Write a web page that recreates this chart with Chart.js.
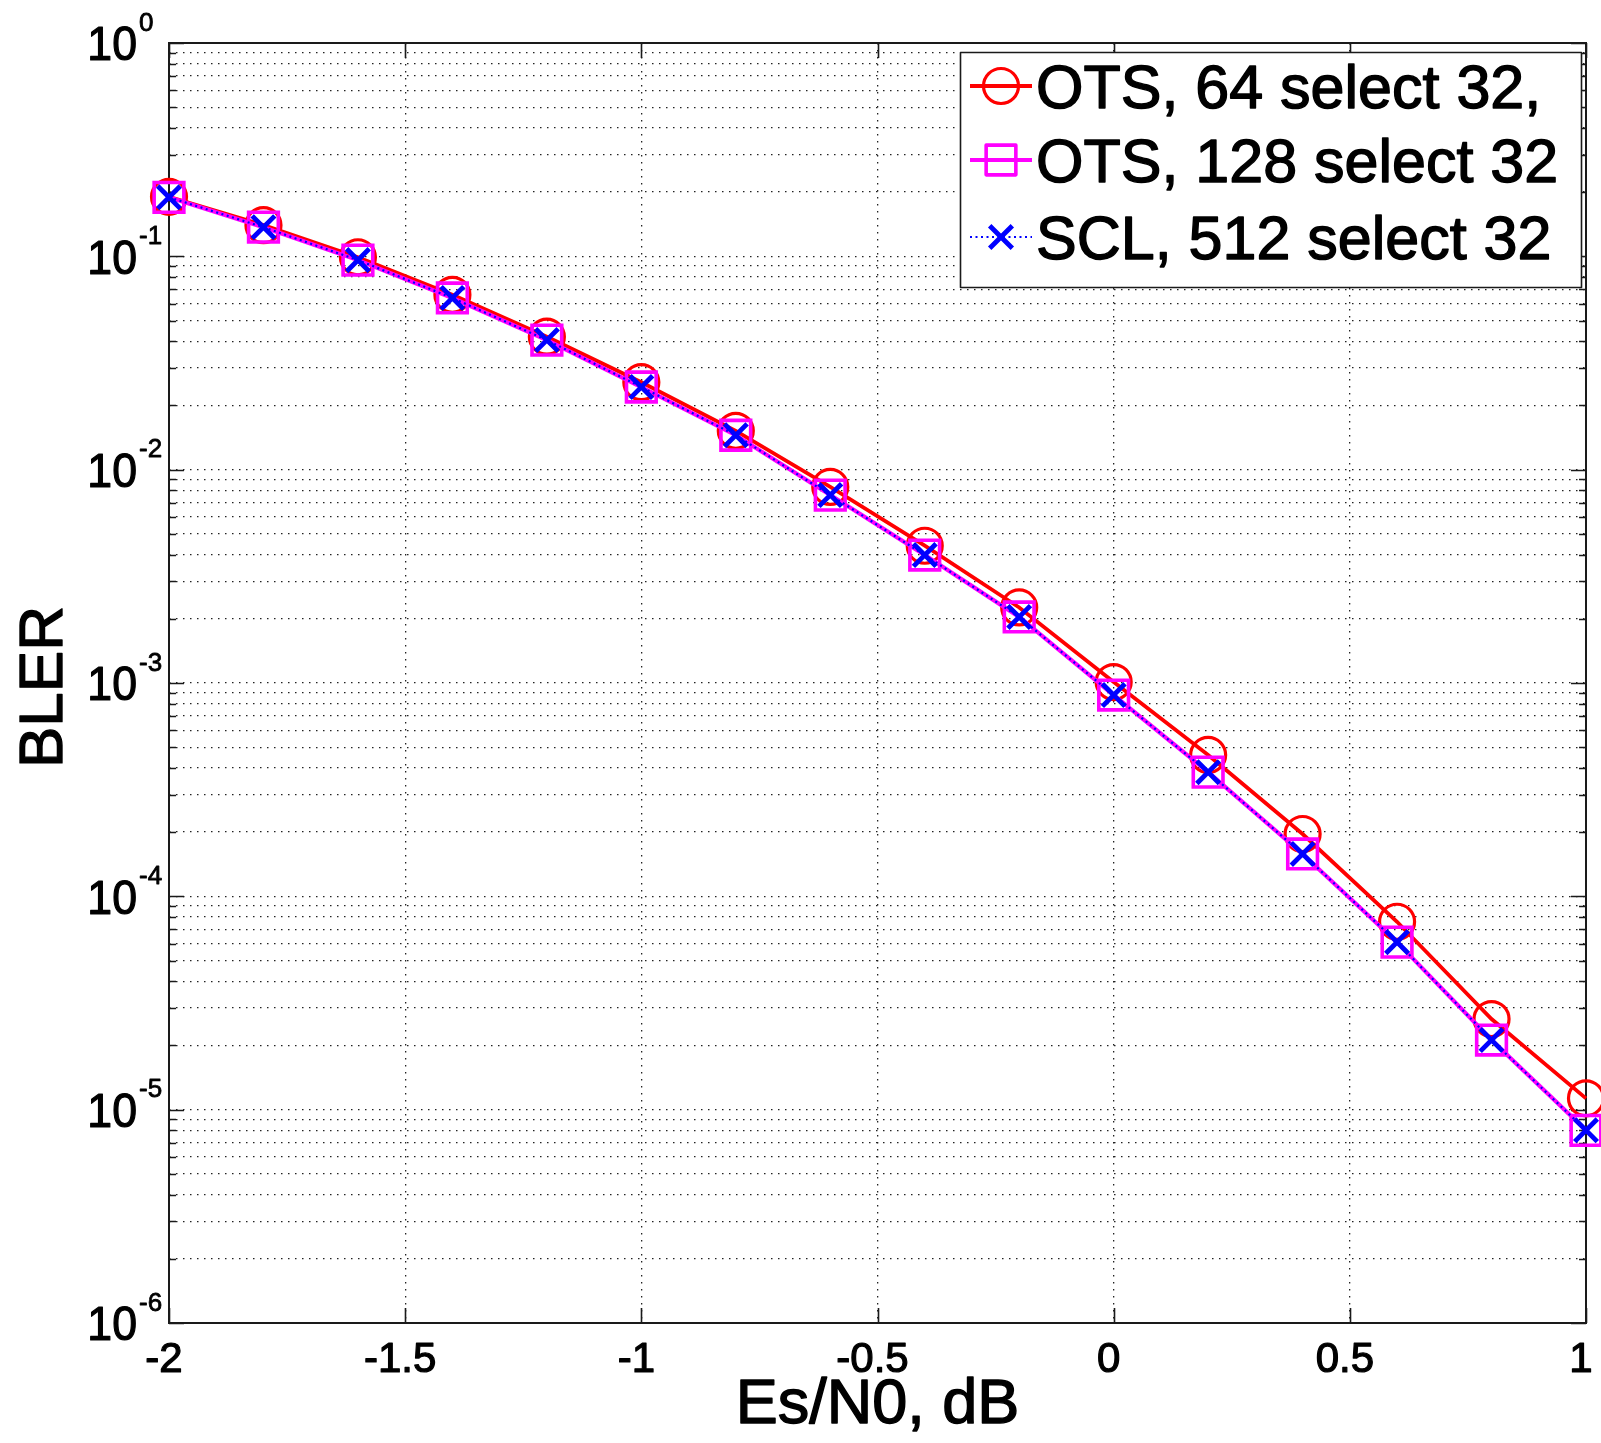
<!DOCTYPE html>
<html><head><meta charset="utf-8">
<script src="https://cdn.jsdelivr.net/npm/chart.js@4.4.0/dist/chart.umd.min.js"></script>
<style>html,body{margin:0;padding:0;background:#fff;}#wrap{width:1601px;height:1443px;}</style>
</head><body><div id="wrap"><canvas id="c" width="1601" height="1443"></canvas></div>
<script>
const esn0 = [-2, -1.8, -1.6, -1.4, -1.2, -1, -0.8, -0.6, -0.4, -0.2, 0, 0.2, 0.4, 0.6, 0.8, 1];
const ots64 = [0.19, 0.14, 0.099, 0.066, 0.042, 0.0257, 0.0152, 0.0083, 0.0044, 0.00226, 0.00101, 0.00046, 0.000196, 7.6e-5, 2.66e-5, 1.13e-5];
const ots128 = [0.189, 0.137, 0.096, 0.0638, 0.0405, 0.0244, 0.0145, 0.0076, 0.00398, 0.00204, 0.000878, 0.000382, 0.000158, 6.1e-5, 2.12e-5, 8.0e-6];
const scl512 = [0.189, 0.137, 0.096, 0.0638, 0.0405, 0.0244, 0.0145, 0.0076, 0.00398, 0.00204, 0.000878, 0.000382, 0.000158, 6.1e-5, 2.12e-5, 8.0e-6];
const seriesNames = ['OTS, 64 select 32,', 'OTS, 128 select 32', 'SCL, 512 select 32'];
const xTickValues = [-2, -1.5, -1, -0.5, 0, 0.5, 1];
const xTickLabels = ['-2', '-1.5', '-1', '-0.5', '0', '0.5', '1'];
const yDecadeExponents = [0, -1, -2, -3, -4, -5, -6];
const xTitle = 'Es/N0, dB';
const yTitle = 'BLER';

const FONT = '"Liberation Sans", Arial, Helvetica, sans-serif';
const toPts = arr => esn0.map((x, i) => ({x: x, y: arr[i]}));

function logTicks() {
  const t = [];
  const lo = Math.min(...yDecadeExponents), hi = Math.max(...yDecadeExponents);
  for (let e = lo; e <= hi; e++) {
    for (let m = 1; m <= 9; m++) {
      if (e === hi && m > 1) break;
      t.push({value: m * Math.pow(10, e), major: m === 1});
    }
  }
  return t;
}

const markerSpecs = [
  {style: 'circle', r: 17.5, lw: 3.2},
  {style: 'rect', r: 21, lw: 3.6},
  {style: 'crossRot', r: 16, lw: 4.8}
];

function drawMarker(ctx, spec, color, x, y) {
  ctx.save();
  ctx.strokeStyle = color;
  ctx.lineWidth = spec.lw;
  ctx.setLineDash([]);
  ctx.beginPath();
  if (spec.style === 'circle') {
    ctx.arc(x, y, spec.r, 0, Math.PI * 2);
  } else if (spec.style === 'rect') {
    const s = spec.r * Math.SQRT1_2;
    ctx.rect(x - s, y - s, 2 * s, 2 * s);
  } else {
    const o = spec.r * Math.SQRT1_2;
    ctx.moveTo(x - o, y - o); ctx.lineTo(x + o, y + o);
    ctx.moveTo(x - o, y + o); ctx.lineTo(x + o, y - o);
  }
  ctx.stroke();
  ctx.restore();
}

function boldText(ctx, txt, x, y, sw) {
  ctx.lineWidth = sw;
  ctx.strokeStyle = '#000';
  ctx.lineJoin = 'round';
  ctx.strokeText(txt, x, y);
  ctx.fillText(txt, x, y);
}

const framePlugin = {
  id: 'frame',
  beforeDatasetsDraw(chart) {
    const {ctx, chartArea: a, scales: {x, y}} = chart;
    ctx.save();
    ctx.strokeStyle = '#1a1a1a';
    ctx.lineWidth = 1.6;
    ctx.setLineDash([]);
    ctx.beginPath();
    y.ticks.forEach(t => {
      const py = Math.round(y.getPixelForValue(t.value)) + 0.5;
      const len = t.major ? 15 : 7;
      ctx.moveTo(a.left, py); ctx.lineTo(a.left + len, py);
      ctx.moveTo(a.right, py); ctx.lineTo(a.right - len, py);
    });
    x.ticks.forEach(t => {
      const px = Math.round(x.getPixelForValue(t.value)) + 0.5;
      ctx.moveTo(px, a.bottom); ctx.lineTo(px, a.bottom - 15);
      ctx.moveTo(px, a.top); ctx.lineTo(px, a.top + 15);
    });
    ctx.stroke();
    ctx.lineWidth = 2;
    ctx.strokeRect(a.left, a.top, a.right - a.left, a.bottom - a.top);
    ctx.restore();
  },
  afterDatasetsDraw(chart) {
    const {ctx, chartArea: a, scales: {x, y}} = chart;
    ctx.save();
    ctx.fillStyle = '#000';
    yDecadeExponents.forEach(e => {
      const py = y.getPixelForValue(Math.pow(10, e));
      const fs = 48, cap = 0.716 * fs;
      ctx.save();
      ctx.translate(137, py + cap / 2);
      ctx.scale(0.93, 1);
      ctx.font = fs + 'px ' + FONT;
      ctx.textAlign = 'right';
      ctx.textBaseline = 'alphabetic';
      boldText(ctx, '10', 0, 0, 1.2);
      ctx.restore();
      ctx.save();
      ctx.translate(139, py - cap / 2 + 5);
      ctx.font = '26px ' + FONT;
      ctx.textAlign = 'left';
      ctx.textBaseline = 'alphabetic';
      boldText(ctx, String(e), 0, 0, 0.8);
      ctx.restore();
    });
    ctx.font = '42px ' + FONT;
    ctx.textAlign = 'center';
    ctx.textBaseline = 'alphabetic';
    xTickValues.forEach((v, i) => {
      const px = x.getPixelForValue(v);
      boldText(ctx, xTickLabels[i], px - 5, 1372, 1.2);
    });
    ctx.font = '63px ' + FONT;
    boldText(ctx, xTitle, (a.left + a.right) / 2, 1423, 1.4);
    ctx.save();
    ctx.translate(62, (a.top + a.bottom) / 2 + 4);
    ctx.rotate(-Math.PI / 2);
    ctx.font = '62px ' + FONT;
    boldText(ctx, yTitle, 0, 0, 1.4);
    ctx.restore();
    // legend
    const bx = 960, by = 52, bw = 621, bh = 235;
    ctx.fillStyle = '#fff';
    ctx.fillRect(bx, by, bw, bh);
    ctx.strokeStyle = '#1a1a1a';
    ctx.lineWidth = 1.6;
    ctx.strokeRect(bx + 0.5, by + 0.5, bw, bh);
    const rows = [86, 160, 237];
    chart.data.datasets.forEach((ds, i) => {
      const ry = rows[i];
      ctx.save();
      ctx.strokeStyle = ds.borderColor;
      ctx.lineWidth = ds.borderWidth;
      ctx.setLineDash(ds.borderDash || []);
      ctx.beginPath();
      ctx.moveTo(970, ry); ctx.lineTo(1032, ry);
      ctx.stroke();
      ctx.restore();
      drawMarker(ctx, markerSpecs[i], ds.pointBorderColor, 1001, ry);
      ctx.fillStyle = '#000';
      ctx.font = '61px ' + FONT;
      ctx.textAlign = 'left';
      ctx.textBaseline = 'alphabetic';
      boldText(ctx, ds.label, 1036, ry + 0.716 * 61 / 2, 1.4);
    });
    ctx.restore();
  }
};

const gridStyle = {color: '#222', lineWidth: 1.3, drawTicks: false};
const gridBorder = {display: false, dash: [1.5, 5.5]};

new Chart(document.getElementById('c'), {
  type: 'line',
  data: {
    datasets: [
      {label: seriesNames[0], data: toPts(ots64), borderColor: '#ff0000', borderWidth: 3.8,
       pointStyle: 'circle', pointRadius: markerSpecs[0].r, pointBorderWidth: markerSpecs[0].lw,
       pointBorderColor: '#ff0000', pointBackgroundColor: 'rgba(0,0,0,0)', order: 2},
      {label: seriesNames[1], data: toPts(ots128), borderColor: '#ff00ff', borderWidth: 4.2,
       pointStyle: 'rect', pointRadius: markerSpecs[1].r, pointBorderWidth: markerSpecs[1].lw,
       pointBorderColor: '#ff00ff', pointBackgroundColor: 'rgba(0,0,0,0)', order: 1},
      {label: seriesNames[2], data: toPts(scl512), borderColor: '#0000ff', borderWidth: 2.2, borderDash: [2, 3.5],
       pointStyle: 'crossRot', pointRadius: markerSpecs[2].r, pointBorderWidth: markerSpecs[2].lw,
       pointBorderColor: '#0000ff', pointBackgroundColor: 'rgba(0,0,0,0)', order: 0}
    ]
  },
  options: {
    responsive: false,
    animation: false,
    devicePixelRatio: 1,
    layout: {autoPadding: false, padding: {left: 169, top: 43, right: 15, bottom: 120}},
    elements: {line: {tension: 0, fill: false}},
    datasets: {line: {clip: false}},
    plugins: {legend: {display: false}, tooltip: {enabled: false}},
    scales: {
      x: {
        type: 'linear', min: -2, max: 1,
        afterBuildTicks: s => { s.ticks = xTickValues.map(v => ({value: v})); },
        ticks: {display: false},
        grid: gridStyle, border: gridBorder
      },
      y: {
        type: 'logarithmic', min: 1e-6, max: 1,
        afterBuildTicks: s => { s.ticks = logTicks(); },
        ticks: {display: false},
        grid: gridStyle, border: gridBorder
      }
    }
  },
  plugins: [framePlugin]
});
</script></body></html>
